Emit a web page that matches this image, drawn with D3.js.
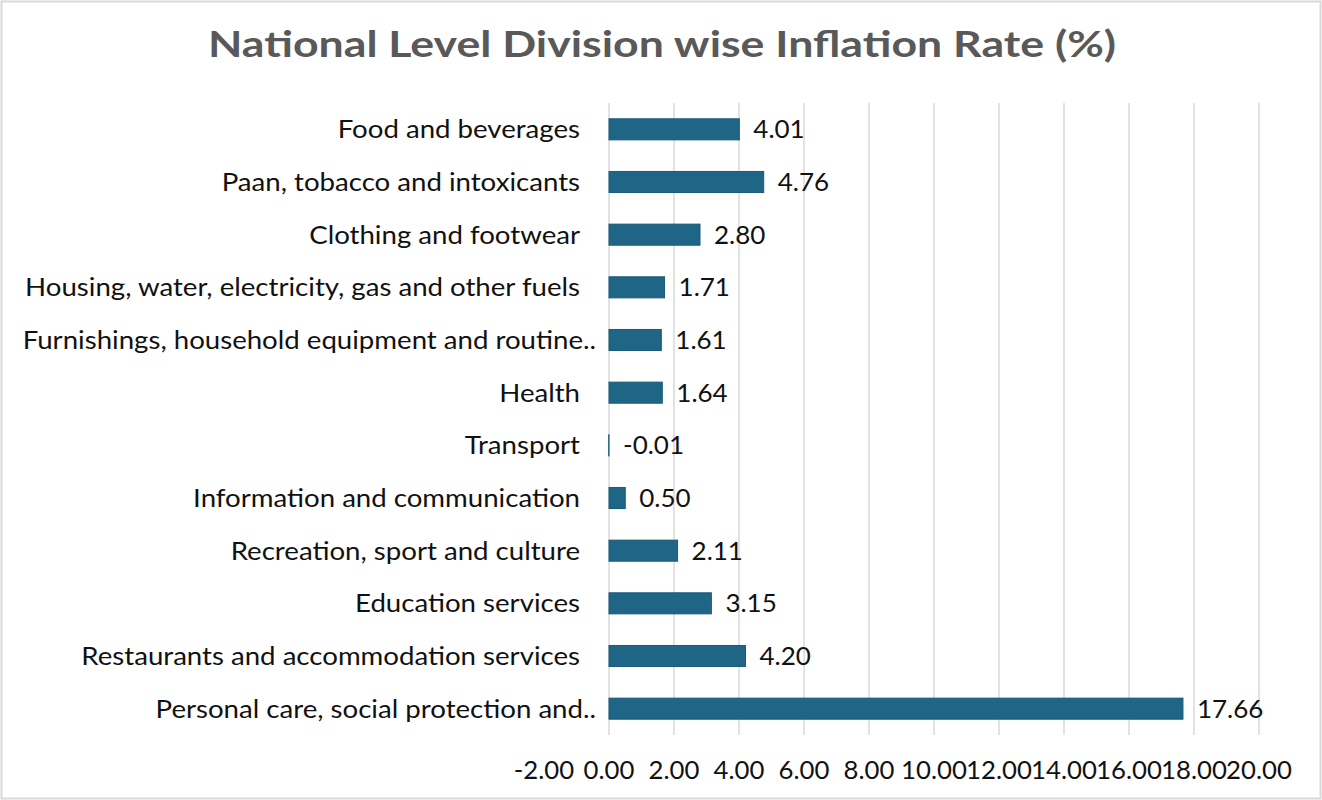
<!DOCTYPE html>
<html>
<head>
<meta charset="utf-8">
<script src="https://cdn.jsdelivr.net/npm/d3@7"></script>
<style>
  body { margin: 0; background: #fff; }
  text { font-family: Lato, "Open Sans", sans-serif; }
</style>
</head>
<body>
<svg id="chart" width="1322" height="800"></svg>
<script>
var categories = [
    "Food and beverages",
    "Paan, tobacco and intoxicants",
    "Clothing and footwear",
    "Housing, water, electricity, gas and other fuels",
    "Furnishings, household equipment and routine..",
    "Health",
    "Transport",
    "Information and communication",
    "Recreation, sport and culture",
    "Education services",
    "Restaurants and accommodation services",
    "Personal care, social protection and.."
];
var rates = [4.01, 4.76, 2.80, 1.71, 1.61, 1.64, -0.01, 0.50, 2.11, 3.15, 4.20, 17.66];
var ticks = [-2, 0, 2, 4, 6, 8, 10, 12, 14, 16, 18, 20];
var title = "National Level Division wise Inflation Rate (%)";

var svg = d3.select("#chart");
var W = 1322, H = 800;

// the source picture is a bit wider than tall, so text gets a horizontal stretch
function place(sx) {
    return function(d, i) {
        return "translate(" + this.__x + "," + this.__y + ") scale(" + sx + ",1)";
    };
}

// outer frame
svg.append("rect")
    .attr("x", 1.5).attr("y", 1.5)
    .attr("width", W - 3).attr("height", H - 3)
    .attr("fill", "#fff").attr("stroke", "#d9d9d9").attr("stroke-width", 2);

svg.append("text")
    .attr("x", 662).attr("y", 57)
    .attr("text-anchor", "middle")
    .attr("font-size", 36).attr("font-weight", "bold")
    .attr("fill", "#595959")
    .attr("textLength", 908).attr("lengthAdjust", "spacingAndGlyphs")
    .text(title);

var x = d3.scaleLinear().domain([-2, 20]).range([544, 1259]);
var y = d3.scaleBand().domain(categories).range([103, 735]).paddingInner(0.6).paddingOuter(0.3);

// gridlines
svg.append("g").selectAll("line")
    .data(ticks.filter(function(d) { return d >= 0; }))
    .enter().append("line")
    .attr("x1", function(d) { return x(d); })
    .attr("x2", function(d) { return x(d); })
    .attr("y1", 103).attr("y2", 735)
    .attr("stroke", "#d9d9d9").attr("stroke-width", 1.5);

// bars
svg.append("g").selectAll("rect")
    .data(rates)
    .enter().append("rect")
    .attr("x", function(d) { return x(Math.min(0, d)); })
    .attr("y", function(d, i) { return y(categories[i]); })
    .attr("width", function(d) { return Math.abs(x(d) - x(0)); })
    .attr("height", y.bandwidth())
    .attr("fill", "#1f6686")
    .attr("stroke", "#1a5a78").attr("stroke-width", 1);

// value labels
svg.append("g").selectAll("text")
    .data(rates)
    .enter().append("text")
    .attr("transform", function(d, i) {
        var tx = x(Math.max(0, d)) + 14,
            ty = y(categories[i]) + y.bandwidth() / 2;
        return "translate(" + tx + "," + ty + ") scale(1.04,1)";
    })
    .attr("dy", "0.36em")
    .attr("font-size", 25).attr("fill", "#111")
    .text(function(d) { return d.toFixed(2); });

// category labels (truncated ones have ".." hanging past the edge)
var labelX = 580;
svg.append("g").selectAll("text")
    .data(categories)
    .enter().append("text")
    .attr("transform", function(d) {
        var tx = /\.\.$/.test(d) ? labelX + 16 : labelX,
            ty = y(d) + y.bandwidth() / 2;
        return "translate(" + tx + "," + ty + ") scale(1.105,1)";
    })
    .attr("dy", "0.36em")
    .attr("text-anchor", "end")
    .attr("font-size", 25).attr("fill", "#111")
    .text(function(d) { return d; });

// x axis tick labels
svg.append("g").selectAll("text")
    .data(ticks)
    .enter().append("text")
    .attr("transform", function(d) { return "translate(" + x(d) + ",779) scale(1.03,1)"; })
    .attr("text-anchor", "middle")
    .attr("font-size", 25).attr("fill", "#111")
    .text(function(d) { return d.toFixed(2); });
</script>
</body>
</html>
